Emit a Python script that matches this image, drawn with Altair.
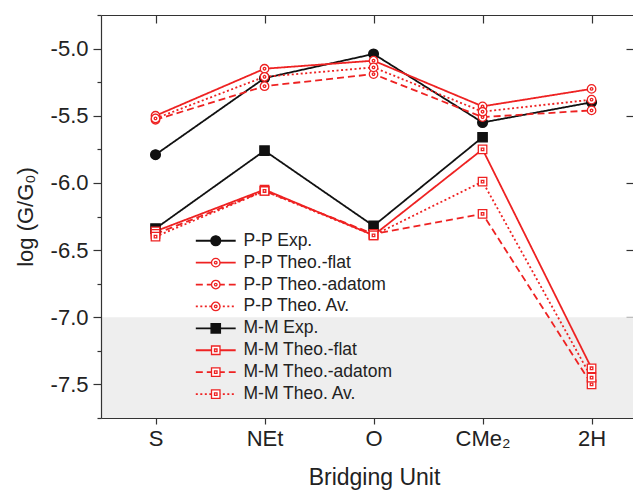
import altair as alt
import pandas as pd

# ---- data ----
categories = ["S", "NEt", "O", "CMe₂", "2H"]
series_names = ["P-P Exp.", "P-P Theo.-flat", "P-P Theo.-adatom", "P-P Theo. Av.",
                "M-M Exp.", "M-M Theo.-flat", "M-M Theo.-adatom", "M-M Theo. Av."]
pp_exp = [-5.79, -5.22, -5.04, -5.55, -5.40]
pp_flat = [-5.50, -5.15, -5.09, -5.43, -5.30]
pp_adatom = [-5.53, -5.28, -5.19, -5.51, -5.46]
pp_av = [-5.52, -5.21, -5.14, -5.47, -5.38]
mm_exp = [-6.34, -5.76, -6.32, -5.66, None]
mm_flat = [-6.36, -6.05, -6.39, -5.75, -7.38]
mm_adatom = [-6.38, -6.06, -6.38, -6.23, -7.50]
mm_av = [-6.40, -6.06, -6.39, -5.99, -7.45]
all_values = [pp_exp, pp_flat, pp_adatom, pp_av, mm_exp, mm_flat, mm_adatom, mm_av]

SHADE_TOP = -7.0
Y_DOMAIN = [-7.75, -4.75]
X_DOMAIN = [-0.5, 4.38]
major_ticks = [-7.5, -7.0, -6.5, -6.0, -5.5, -5.0]
all_ticks = [-7.75, -7.5, -7.25, -7.0, -6.75, -6.5, -6.25, -6.0, -5.75, -5.5, -5.25, -5.0, -4.75]

BLACK = "#111111"
RED = "#ee2222"
AX = "#333333"
TXT = "#222222"
FONT = "Liberation Sans"

line_colors = [BLACK, RED, RED, RED, BLACK, RED, RED, RED]
dashes = [[1, 0], [1, 0], [7, 4], [2, 2.5], [1, 0], [1, 0], [7, 4], [2, 2.5]]
fills = [BLACK, "white", "white", "white", BLACK, "white", "white", "white"]
circle_fill = "M-1.15,0A1.15,1.15 0 1,0 1.15,0A1.15,1.15 0 1,0 -1.15,0Z"
circle_dot = "M-1,0A1,1 0 1,0 1,0A1,1 0 1,0 -1,0Z M-0.3,0A0.3,0.3 0 1,0 0.3,0A0.3,0.3 0 1,0 -0.3,0Z"
square_fill = "M-1.1,-1.1H1.1V1.1H-1.1Z"
square_dot = "M-1,-1H1V1H-1Z M-0.3,-0.3H0.3V0.3H-0.3Z"
shapes = [circle_fill, circle_dot, circle_dot, circle_dot,
          square_fill, square_dot, square_dot, square_dot]
marker_names = ["m " + s for s in series_names]

rows = []
for name, vals in zip(series_names, all_values):
    for i, v in enumerate(vals):
        if v is None:
            continue
        rows.append({"series": name, "marker": "m " + name, "xi": i, "y": v})
df = pd.DataFrame(rows)

band = pd.DataFrame({"x0": [X_DOMAIN[0]], "x1": [X_DOMAIN[1]],
                     "y0": [SHADE_TOP], "y1": [Y_DOMAIN[0]]})

x_scale = alt.Scale(domain=X_DOMAIN, nice=False, zero=False)
y_scale = alt.Scale(domain=Y_DOMAIN, nice=False, zero=False)

cat_expr = "[" + ",".join("'" + c + "'" for c in categories) + "][datum.value]"
half_test = "abs(datum.value*2 - round(datum.value*2)) > 0.01"

bottom_axis = alt.Axis(orient="bottom", values=list(range(len(categories))), labelExpr=cat_expr,
                       tickSize=6, labelPadding=4, title="Bridging Unit", titlePadding=17,
                       titleX=273, titleFontSize=23, grid=False, zindex=1)
left_axis = alt.Axis(orient="left", values=all_ticks,
                     labelExpr="abs(datum.value*2 - round(datum.value*2)) < 0.01 ? replace(format(datum.value, '.1f'), '\u2212', '-') : ''",
                     tickSize={"condition": {"test": half_test, "value": 4}, "value": 8},
                     labelPadding=5, title="log (G/G₀)", titlePadding=13, grid=False, zindex=1)

legend_common = dict(orient="none", legendX=106, legendY=217, title=None, padding=0,
                     symbolSize=72, labelFont=FONT, labelFontSize=17.5, labelColor=TXT,
                     labelOffset=19, rowPadding=2.9)
legA = alt.Legend(symbolType="M-4.7,0H4.7", symbolStrokeWidth=1.8, **legend_common)
legB = alt.Legend(symbolStrokeWidth=1.3, labelExpr="' '", symbolOpacity=1, **legend_common)

rect = alt.Chart(band).mark_rect(color="#eeeeee").encode(
    x=alt.X("x0:Q", scale=x_scale, axis=bottom_axis),
    x2="x1:Q",
    y=alt.Y("y0:Q", scale=y_scale, axis=left_axis),
    y2="y1:Q",
)

lines = alt.Chart(df).mark_line(strokeWidth=1.8).encode(
    x=alt.X("xi:Q", scale=x_scale,
            axis=alt.Axis(orient="top", domain=True, ticks=False, labels=False, title=None,
                          grid=False, zindex=1)),
    y=alt.Y("y:Q", scale=y_scale,
            axis=alt.Axis(orient="right", offset=-7, domain=False, tickSize=7, labels=False,
                          title=None, grid=False, values=major_ticks)),
    color=alt.Color("series:N", scale=alt.Scale(domain=series_names, range=line_colors), legend=legA),
    strokeDash=alt.StrokeDash("series:N", scale=alt.Scale(domain=series_names, range=dashes), legend=legA),
)

points = alt.Chart(df).mark_point(filled=True, size=72, opacity=1, strokeWidth=1.3).encode(
    x=alt.X("xi:Q", scale=x_scale,
            axis=alt.Axis(orient="top", offset=-8, domain=False, tickSize=8, labels=False,
                          title=None, grid=False, values=list(range(len(categories))))),
    y=alt.Y("y:Q", scale=y_scale, axis=None),
    stroke=alt.Stroke("marker:N", scale=alt.Scale(domain=marker_names, range=line_colors), legend=legB),
    fill=alt.Fill("marker:N", scale=alt.Scale(domain=marker_names, range=fills), legend=legB),
    shape=alt.Shape("marker:N", scale=alt.Scale(domain=marker_names, range=shapes), legend=legB),
)

chart = alt.layer(rect, lines, points).resolve_axis(
    x="independent", y="independent"
).properties(
    width=532, height=403,
    autosize=alt.AutoSizeParams(type="none"),
    padding={"left": 93, "top": 7, "right": 0, "bottom": 74},
).configure_view(stroke=None).configure_axis(
    labelFont=FONT, titleFont=FONT, labelFontSize=22, titleFontSize=22,
    labelColor=TXT, titleColor=TXT, titleFontWeight="normal",
    tickColor=AX, domainColor=AX, tickWidth=1.2, domainWidth=1.2,
)

chart.save("out.html", embed_options={"renderer": "svg", "actions": False})
